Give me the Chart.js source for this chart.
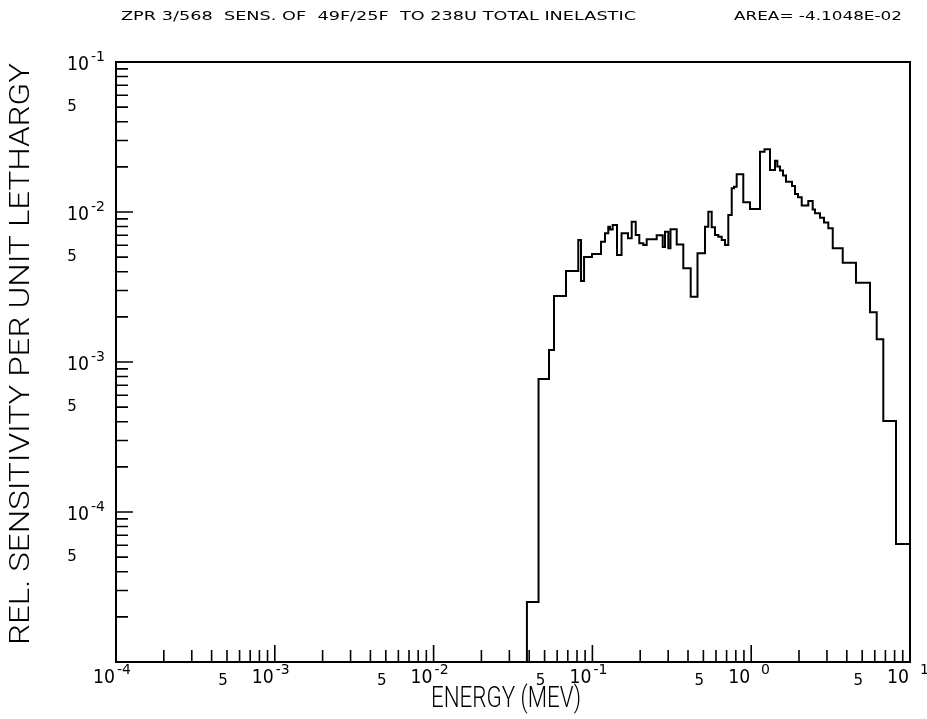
<!DOCTYPE html>
<html>
<head>
<meta charset="utf-8">
<script src="https://cdn.jsdelivr.net/npm/chart.js@4.4.1/dist/chart.umd.min.js"></script>
<style>
  body { margin: 0; background: #fff; }
  #wrap { width: 927px; height: 719px; }
</style>
</head>
<body>
<div id="wrap"><canvas id="sensChart" width="927" height="719"></canvas></div>
<script>
// energy group boundaries (MeV), low to high
const energyEdges = [
  0.0387, 0.0458, 0.0533, 0.0573, 0.0682, 0.0815, 0.0848, 0.0886, 0.0994, 0.1133,
  0.120, 0.1259, 0.129, 0.1342, 0.1429, 0.1526, 0.1676, 0.1768, 0.1874, 0.1974,
  0.2092, 0.2197, 0.254, 0.2772, 0.2866, 0.3006, 0.3103, 0.3396, 0.3736, 0.4159,
  0.459, 0.5119, 0.537, 0.564, 0.5916, 0.6206, 0.652, 0.684, 0.7175, 0.754,
  0.779, 0.81, 0.8917, 0.9826, 1.136, 1.213, 1.313, 1.412, 1.46, 1.519,
  1.586, 1.656, 1.807, 1.887, 1.971, 2.08, 2.288, 2.439, 2.522, 2.713,
  2.873, 3.059, 3.262, 3.77, 4.569, 5.6, 6.171, 6.79, 8.163, 10.0
];
// sensitivity per unit lethargy, one per group
const sensitivity = [
  2.51e-5, 7.70e-4, 1.20e-3, 2.75e-3, 4.04e-3, 6.51e-3, 3.47e-3, 5.01e-3, 5.25e-3, 6.34e-3,
  7.21e-3, 7.98e-3, 7.64e-3, 8.19e-3, 5.17e-3, 7.21e-3, 6.68e-3, 8.61e-3, 7.03e-3, 6.18e-3,
  6.03e-3, 6.58e-3, 6.99e-3, 5.84e-3, 7.39e-3, 5.73e-3, 7.67e-3, 6.07e-3, 4.21e-3, 2.72e-3,
  5.31e-3, 7.98e-3, 1.005e-2, 7.91e-3, 7.03e-3, 6.84e-3, 6.51e-3, 6.03e-3, 9.55e-3, 1.439e-2,
  1.475e-2, 1.784e-2, 1.161e-2, 1.047e-2, 2.52e-2, 2.62e-2, 1.905e-2, 2.20e-2, 2.01e-2, 1.89e-2,
  1.75e-2, 1.592e-2, 1.491e-2, 1.318e-2, 1.253e-2, 1.105e-2, 1.184e-2, 1.039e-2, 9.80e-3, 9.15e-3,
  8.51e-3, 7.78e-3, 5.73e-3, 4.59e-3, 3.38e-3, 2.15e-3, 1.416e-3, 4.04e-4, 6.12e-5
];
const xDecades = [-4, -3, -2, -1, 0, 1];   // 10^-4 .. 10^1 MeV
const yDecades = [-5, -4, -3, -2, -1];     // 10^-5 .. 10^-1
const yLabelDecades = [-1, -2, -3, -4];
const titleText = 'ZPR 3/568  SENS. OF  49F/25F  TO 238U TOTAL INELASTIC';
const areaText = 'AREA= -4.1048E-02';
const xTitle = 'ENERGY (MEV)';
const yTitle = 'REL. SENSITIVITY PER UNIT LETHARGY';

const X_MIN = Math.pow(10, xDecades[0]), X_MAX = Math.pow(10, xDecades[xDecades.length - 1]);
const Y_MIN = Math.pow(10, yDecades[0]), Y_MAX = Math.pow(10, yDecades[yDecades.length - 1]);

// step points: value i holds from edge i to edge i+1
const points = [{ x: energyEdges[0], y: Y_MIN }];
sensitivity.forEach((v, i) => points.push({ x: energyEdges[i], y: v }));
points.push({ x: energyEdges[energyEdges.length - 1], y: sensitivity[sensitivity.length - 1] });

const FONT = '"DejaVu Sans", "Liberation Sans", sans-serif';
const THIN = '300 {s}px Roboto, "DejaVu Sans", sans-serif';

// draw text squeezed/stretched to a given width
function fitText(ctx, str, x, y, width, font, align) {
  ctx.font = font;
  const w = ctx.measureText(str).width;
  ctx.save();
  ctx.translate(x, y);
  ctx.scale(width / w, 1);
  ctx.textAlign = align;
  ctx.textBaseline = 'middle';
  ctx.fillText(str, 0, 0);
  ctx.restore();
}

function plainText(ctx, str, x, y, size, align) {
  ctx.font = size + 'px ' + FONT;
  ctx.textAlign = align;
  ctx.textBaseline = 'middle';
  ctx.fillText(str, x, y);
}

// "10" plus exponent, with the base squeezed like the plotter digits
function powerLabel(ctx, d, xRight, yBase, ySup) {
  fitText(ctx, '10', xRight, yBase, 22, '20px ' + FONT, 'right');
  const sup = d < 0 ? '-' + (-d) : '  ' + d;
  plainText(ctx, sup, xRight + 2, ySup, 14, 'left');
}

const plotterFrame = {
  id: 'plotterFrame',
  afterDraw(chart) {
    const { ctx, chartArea: a } = chart;
    const xs = chart.scales.x, ys = chart.scales.y;
    ctx.save();
    ctx.strokeStyle = '#000';
    ctx.fillStyle = '#000';

    // frame
    ctx.lineWidth = 2;
    ctx.strokeRect(a.left, a.top, a.right - a.left, a.bottom - a.top);

    // ticks, drawn inward
    ctx.lineWidth = 1.6;
    ctx.beginPath();
    xDecades.forEach((d, k) => {
      for (let m = 1; m <= 9; m++) {
        if (k === xDecades.length - 1 && m > 1) break;
        const px = xs.getPixelForValue(m * Math.pow(10, d));
        const len = m === 1 ? 17 : 12;
        ctx.moveTo(px, a.bottom);
        ctx.lineTo(px, a.bottom - len);
      }
    });
    yDecades.forEach((d, k) => {
      for (let m = 1; m <= 9; m++) {
        if (k === yDecades.length - 1 && m > 1) break;
        const py = ys.getPixelForValue(m * Math.pow(10, d));
        const len = m === 1 ? 17 : 12;
        ctx.moveTo(a.left, py);
        ctx.lineTo(a.left + len, py);
      }
    });
    ctx.stroke();

    // x tick labels
    xDecades.forEach((d, k) => {
      const px = xs.getPixelForValue(Math.pow(10, d));
      powerLabel(ctx, d, px - 1, 678, 670);
      if (k < xDecades.length - 1) {
        const p5 = xs.getPixelForValue(5 * Math.pow(10, d));
        plainText(ctx, '5', p5 - 4, 681, 15, 'center');
      }
    });

    // y tick labels
    yLabelDecades.forEach(d => {
      const py = ys.getPixelForValue(Math.pow(10, d));
      powerLabel(ctx, d, 89, py + 3, py - 5);
      const p5 = ys.getPixelForValue(5 * Math.pow(10, d - 1));
      plainText(ctx, '5', 72, p5, 15, 'center');
    });

    // titles
    fitText(ctx, titleText, 121, 17, 515, '13px ' + FONT, 'left');
    fitText(ctx, areaText, 734, 17, 168, '13px ' + FONT, 'left');
    fitText(ctx, xTitle, 506, 700, 150, THIN.replace('{s}', 29), 'center');
    ctx.save();
    ctx.translate(22, 354);
    ctx.rotate(-Math.PI / 2);
    fitText(ctx, yTitle, 0, 0, 582, THIN.replace('{s}', 28), 'center');
    ctx.restore();

    ctx.restore();
  }
};

new Chart(document.getElementById('sensChart').getContext('2d'), {
  type: 'line',
  data: {
    datasets: [{
      data: points,
      borderColor: '#000',
      borderWidth: 2,
      pointRadius: 0,
      fill: false,
      stepped: true
    }]
  },
  options: {
    responsive: false,
    animation: false,
    layout: { padding: { left: 116, right: 17, top: 62, bottom: 57 } },
    plugins: { legend: { display: false }, tooltip: { enabled: false } },
    scales: {
      x: { type: 'logarithmic', min: X_MIN, max: X_MAX, display: false },
      y: { type: 'logarithmic', min: Y_MIN, max: Y_MAX, display: false }
    }
  },
  plugins: [plotterFrame]
});
</script>
</body>
</html>
